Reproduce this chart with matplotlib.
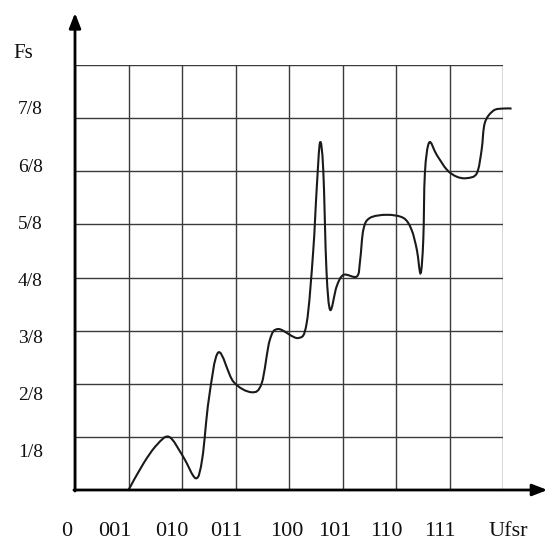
import numpy as np
import matplotlib
matplotlib.use("Agg")
import matplotlib.pyplot as plt
from matplotlib.path import Path
from matplotlib.patches import PathPatch

# ---- data (x in code steps, y in eighths of full scale)
x_labels = ["0", "001", "010", "011", "100", "101", "110", "111", "Ufsr"]
y_labels = ["1/8", "2/8", "3/8", "4/8", "5/8", "6/8", "7/8"]
curve_x = [1.00, 1.28, 1.53, 1.76, 2.02, 2.26, 2.38, 2.50, 2.68, 2.96, 3.30, 3.49,
           3.64, 3.80, 4.17, 4.33, 4.45, 4.52, 4.58, 4.64, 4.70, 4.77, 4.89, 5.02,
           5.27, 5.33, 5.39, 5.51, 5.83, 6.14, 6.29, 6.39, 6.46, 6.51, 6.54, 6.62,
           6.76, 6.95, 7.13, 7.32, 7.51, 7.60, 7.66, 7.82, 8.00, 8.16]
curve_y = [0.00, 0.50, 0.85, 1.00, 0.63, 0.22, 0.60, 1.70, 2.59, 2.04, 1.84, 2.01,
           2.82, 3.03, 2.86, 3.14, 4.46, 5.71, 6.54, 6.03, 4.14, 3.39, 3.83, 4.05,
           4.02, 4.33, 4.90, 5.12, 5.18, 5.12, 4.90, 4.52, 4.08, 4.71, 5.96, 6.54,
           6.31, 6.03, 5.90, 5.87, 5.96, 6.40, 6.91, 7.14, 7.18, 7.18]

W, H = 546, 542
fig = plt.figure(figsize=(W / 100, H / 100), dpi=100)
fig.patch.set_facecolor("white")

# axes: data x=0..8 -> px 75..503, y=0..8 -> px 490..65
ax = fig.add_axes([75 / W, 1 - 490 / H, 428 / W, 425 / H])
ax.set_xlim(0, 8)
ax.set_ylim(0, 8)
for s in ax.spines.values():
    s.set_visible(False)
ax.set_xticks(range(0, 9))
ax.set_yticks(range(0, 9))
ax.tick_params(length=0, labelbottom=False, labelleft=False)
ax.grid(True, color="#3a3a3a", lw=1.0)
ax.set_axisbelow(True)

# smooth curve through the read points (Catmull-Rom as Bezier path)
P = np.column_stack([curve_x, curve_y])
n = len(P)
verts = [tuple(P[0])]
codes = [Path.MOVETO]
for i in range(n - 1):
    p0 = P[i - 1] if i > 0 else P[i]
    p1 = P[i]
    p2 = P[i + 1]
    p3 = P[i + 2] if i + 2 < n else P[i + 1]
    c1 = p1 + (p2 - p0) / 6.0
    c2 = p2 - (p3 - p1) / 6.0
    verts += [tuple(c1), tuple(c2), tuple(p2)]
    codes += [Path.CURVE4] * 3
ax.add_patch(PathPatch(Path(verts, codes), facecolor="none", edgecolor="#1a1a1a",
                       lw=1.5, clip_on=False, zorder=3))

# axes with arrows
ax.annotate("", xy=(0, 8.98), xytext=(0, -0.02), xycoords="data",
            arrowprops=dict(arrowstyle="-|>,head_length=0.9,head_width=0.35",
                            lw=2, color="black", shrinkA=0, shrinkB=0),
            annotation_clip=False)
ax.annotate("", xy=(8.83, 0), xytext=(-0.02, 0), xycoords="data",
            arrowprops=dict(arrowstyle="-|>,head_length=0.9,head_width=0.35",
                            lw=2, color="black", shrinkA=0, shrinkB=0),
            annotation_clip=False)

font = "Liberation Serif"
# y labels (right-aligned near px 43)
for k, lab in enumerate(y_labels, start=1):
    ypix = 490 - 53.1 * (1.077 * k - 0.38)
    fig.text(43 / W, 1 - ypix / H, lab, ha="right", va="center",
             fontsize=14, family=font, color="#111111")
fig.text(13 / W, 1 - 53 / H, "Fs", ha="left", va="center",
         fontsize=15, family=font, color="#111111")

# x labels
x_label_px = [66.7, 115, 171.7, 226.7, 287, 334.7, 386, 440, 508.7]
for lab, xp in zip(x_labels, x_label_px):
    fig.text(xp / W, 1 - 532 / H, lab, ha="center", va="center",
             fontsize=16, family=font, color="#111111")

fig.savefig("out.png", dpi=100, facecolor="white")
